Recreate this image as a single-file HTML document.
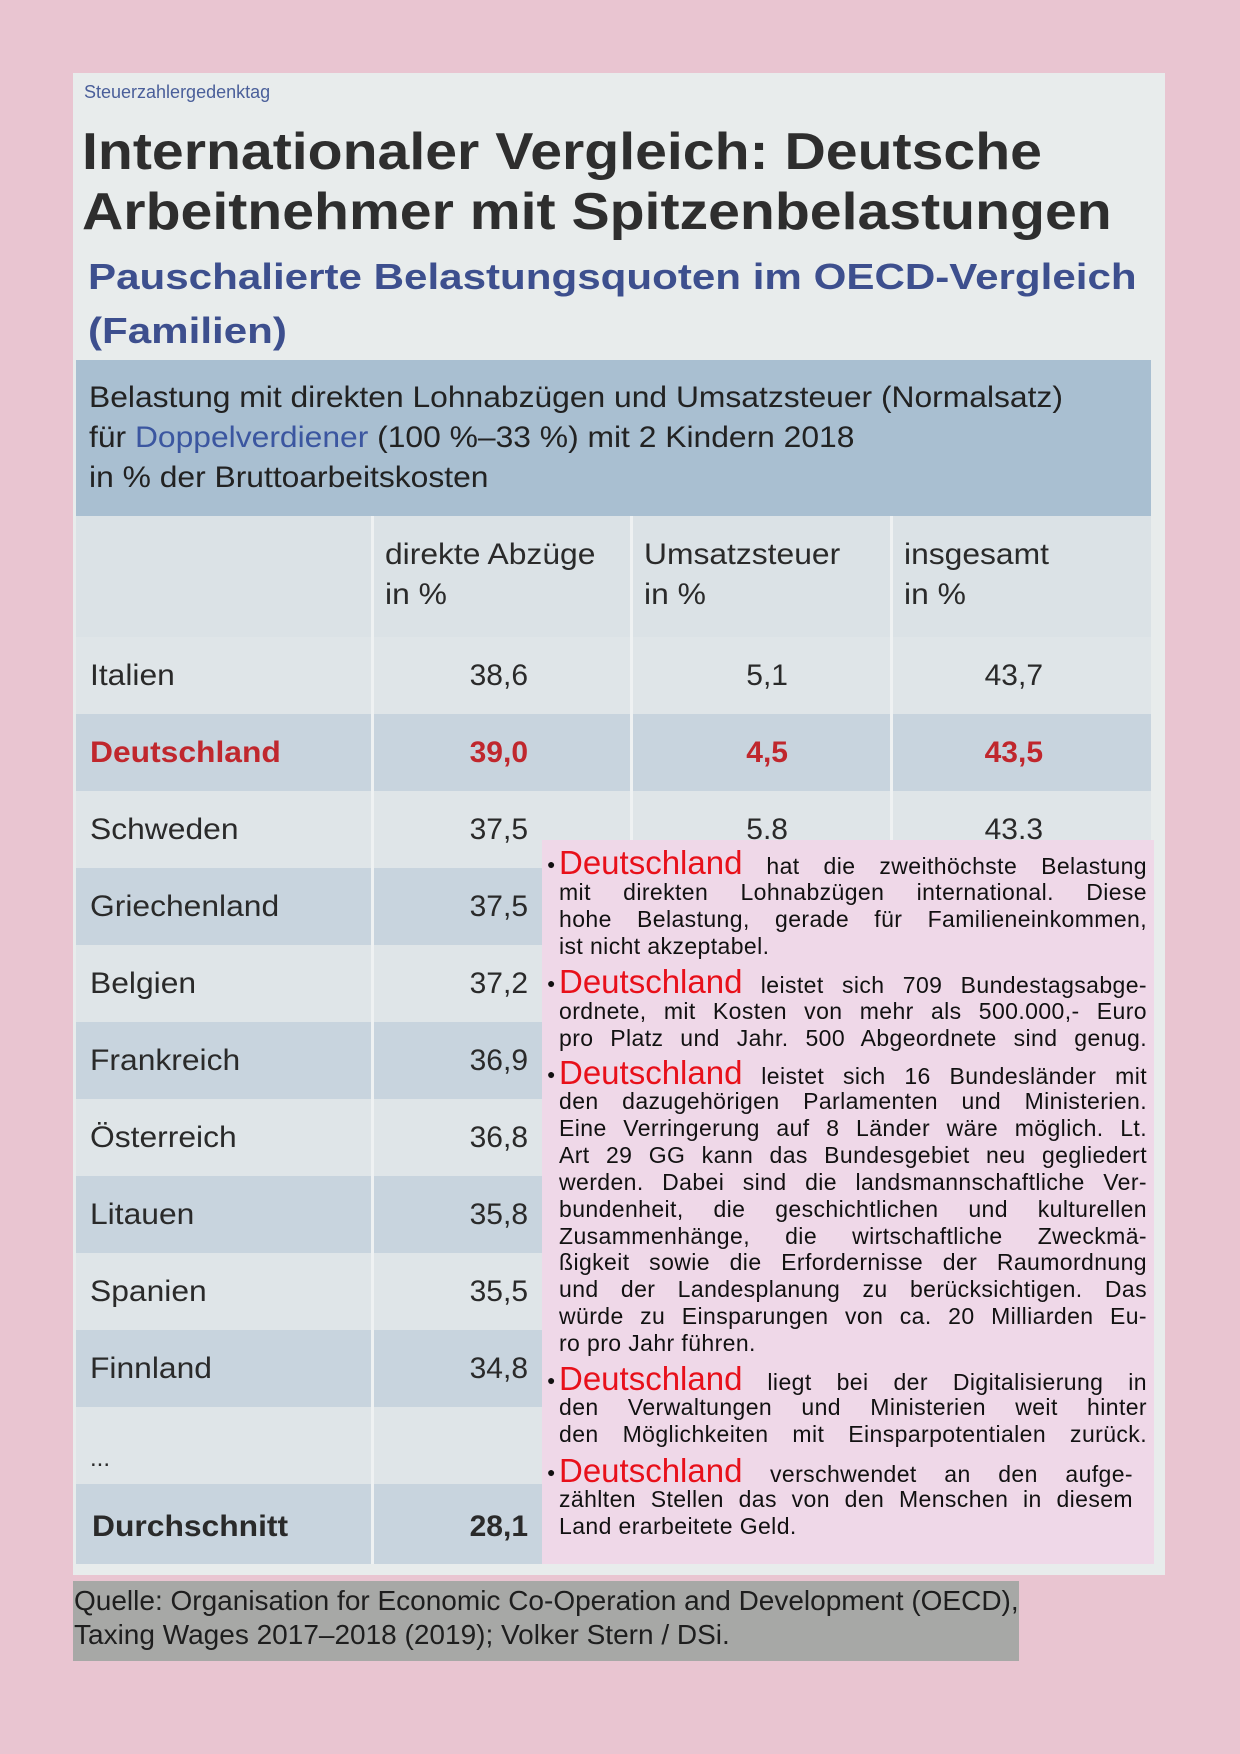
<!DOCTYPE html>
<html><head><meta charset="utf-8"><style>
*{margin:0;padding:0;box-sizing:border-box}
body{width:1240px;height:1754px;background:#e9c5d1;position:relative;overflow:hidden;font-family:"Liberation Sans",sans-serif;color:#2a2a2a}
.a{position:absolute;white-space:nowrap}
.n{transform:scaleX(1.06);transform-origin:left center}
.paper{left:73px;top:73px;width:1092px;height:1502px;background:#e8ecec}
.row{position:absolute;left:76px;width:1075px;height:77px}
.lbl{position:absolute;font-size:30px;line-height:77px}
.val{position:absolute;font-size:30px;line-height:77px;text-align:right}
.ov{left:542px;top:840px;width:612px;height:724px;background:#efd8e8}
.l{position:absolute;left:559px;width:588px;height:28px;line-height:28px;font-size:23px;letter-spacing:0.4px;color:#111;text-align:justify;text-align-last:justify;white-space:nowrap}
.l.e{text-align-last:left}
.r{color:#e8101a;font-size:33px;letter-spacing:0}
.b{position:absolute;left:547px;font-size:14px;color:#111}
</style></head><body>
<div class="a paper"></div>
<div class="a" style="left:84px;top:82px;font-size:18px;color:#4a5f9a">Steuerzahlergedenktag</div>
<div class="a n" style="left:82px;top:122px;font-size:52px;font-weight:bold;color:#2e2e2e;line-height:60px;transform:scaleX(1.1)">Internationaler Vergleich: Deutsche<br>Arbeitnehmer mit Spitzenbelastungen</div>
<div class="a n" style="left:88px;top:250px;font-size:36px;font-weight:bold;color:#3d4f8e;line-height:54px;transform:scaleX(1.17)">Pauschalierte Belastungsquoten im OECD-Vergleich<br>(Familien)</div>
<div class="a" style="left:76px;top:360px;width:1075px;height:156px;background:#a9bfd1"></div>
<div class="a n" style="left:89px;top:378px;font-size:30px;line-height:40px;color:#222">Belastung mit direkten Lohnabzügen und Umsatzsteuer (Normalsatz)<br>für <span style="color:#3b56a0">Doppelverdiener</span> (100 %–33 %) mit 2 Kindern 2018<br>in % der Bruttoarbeitskosten</div>
<div class="a" style="left:76px;top:516px;width:1075px;height:121px;background:#dbe2e6"></div>
<div class="a n" style="left:385px;top:535px;font-size:30px;line-height:40px">direkte Abzüge<br>in %</div>
<div class="a n" style="left:644px;top:535px;font-size:30px;line-height:40px">Umsatzsteuer<br>in %</div>
<div class="a n" style="left:904px;top:535px;font-size:30px;line-height:40px">insgesamt<br>in %</div>

<div class="row" style="top:637px;background:#dfe5e8"></div>
<div class="row" style="top:714px;background:#c8d4de"></div>
<div class="row" style="top:791px;background:#dfe5e8"></div>
<div class="row" style="top:868px;background:#c8d4de"></div>
<div class="row" style="top:945px;background:#dfe5e8"></div>
<div class="row" style="top:1022px;background:#c8d4de"></div>
<div class="row" style="top:1099px;background:#dfe5e8"></div>
<div class="row" style="top:1176px;background:#c8d4de"></div>
<div class="row" style="top:1253px;background:#dfe5e8"></div>
<div class="row" style="top:1330px;background:#c8d4de"></div>
<div class="row" style="top:1407px;background:#dfe5e8"></div>
<div class="row" style="top:1484px;height:80px;background:#c8d4de"></div>
<div class="a" style="left:371px;top:516px;width:3px;height:1048px;background:#eef1f2"></div>
<div class="a" style="left:630px;top:516px;width:3px;height:1048px;background:#eef1f2"></div>
<div class="a" style="left:890px;top:516px;width:3px;height:1048px;background:#eef1f2"></div>

<div class="a n lbl" style="left:90px;top:637px">Italien</div>
<div class="a n lbl" style="left:90px;top:714px;color:#c0272d;font-weight:bold">Deutschland</div>
<div class="a n lbl" style="left:90px;top:791px">Schweden</div>
<div class="a n lbl" style="left:90px;top:868px">Griechenland</div>
<div class="a n lbl" style="left:90px;top:945px">Belgien</div>
<div class="a n lbl" style="left:90px;top:1022px">Frankreich</div>
<div class="a n lbl" style="left:90px;top:1099px">Österreich</div>
<div class="a n lbl" style="left:90px;top:1176px">Litauen</div>
<div class="a n lbl" style="left:90px;top:1253px">Spanien</div>
<div class="a n lbl" style="left:90px;top:1330px">Finnland</div>
<div class="a lbl" style="left:90px;top:1420px;font-size:24px">...</div>
<div class="a n lbl" style="left:92px;top:1488px;font-weight:bold">Durchschnitt</div>

<div class="a val" style="left:460px;width:68px;top:637px">38,6</div>
<div class="a val" style="left:460px;width:68px;top:714px;color:#c0272d;font-weight:bold">39,0</div>
<div class="a val" style="left:460px;width:68px;top:791px">37,5</div>
<div class="a val" style="left:460px;width:68px;top:868px">37,5</div>
<div class="a val" style="left:460px;width:68px;top:945px">37,2</div>
<div class="a val" style="left:460px;width:68px;top:1022px">36,9</div>
<div class="a val" style="left:460px;width:68px;top:1099px">36,8</div>
<div class="a val" style="left:460px;width:68px;top:1176px">35,8</div>
<div class="a val" style="left:460px;width:68px;top:1253px">35,5</div>
<div class="a val" style="left:460px;width:68px;top:1330px">34,8</div>
<div class="a val" style="left:460px;width:68px;top:1488px;font-weight:bold">28,1</div>
<div class="a val" style="left:720px;width:68px;top:637px">5,1</div>
<div class="a val" style="left:720px;width:68px;top:714px;color:#c0272d;font-weight:bold">4,5</div>
<div class="a val" style="left:720px;width:68px;top:791px">5.8</div>
<div class="a val" style="left:975px;width:68px;top:637px">43,7</div>
<div class="a val" style="left:975px;width:68px;top:714px;color:#c0272d;font-weight:bold">43,5</div>
<div class="a val" style="left:975px;width:68px;top:791px">43.3</div>

<div class="a ov"></div>
<span class="b" style="top:856px">●</span><div class="l" style="top:849px"><span class="r">Deutschland</span> hat die zweithöchste Belastung</div>
<div class="l" style="top:878px">mit direkten Lohnabzügen international. Diese</div>
<div class="l" style="top:905px">hohe Belastung, gerade für Familieneinkommen,</div>
<div class="l e" style="top:932px">ist nicht akzeptabel.</div>
<span class="b" style="top:975px">●</span><div class="l" style="top:968px"><span class="r">Deutschland</span> leistet sich 709 Bundestagsabge-</div>
<div class="l" style="top:997px">ordnete, mit Kosten von mehr als 500.000,- Euro</div>
<div class="l" style="top:1024px">pro Platz und Jahr. 500 Abgeordnete sind genug.</div>
<span class="b" style="top:1066px">●</span><div class="l" style="top:1059px"><span class="r">Deutschland</span> leistet sich 16 Bundesländer mit</div>
<div class="l" style="top:1087px">den dazugehörigen Parlamenten und Ministerien.</div>
<div class="l" style="top:1114px">Eine Verringerung auf 8 Länder wäre möglich. Lt.</div>
<div class="l" style="top:1141px">Art 29 GG kann das Bundesgebiet neu gegliedert</div>
<div class="l" style="top:1168px">werden. Dabei sind die landsmannschaftliche Ver-</div>
<div class="l" style="top:1195px">bundenheit, die geschichtlichen und kulturellen</div>
<div class="l" style="top:1222px">Zusammenhänge, die wirtschaftliche Zweckmä-</div>
<div class="l" style="top:1248px">ßigkeit sowie die Erfordernisse der Raumordnung</div>
<div class="l" style="top:1275px">und der Landesplanung zu berücksichtigen. Das</div>
<div class="l" style="top:1302px">würde zu Einsparungen von ca. 20 Milliarden Eu-</div>
<div class="l e" style="top:1329px">ro pro Jahr führen.</div>
<span class="b" style="top:1372px">●</span><div class="l" style="top:1365px"><span class="r">Deutschland</span> liegt bei der Digitalisierung in</div>
<div class="l" style="top:1393px">den Verwaltungen und Ministerien weit hinter</div>
<div class="l" style="top:1420px">den Möglichkeiten mit Einsparpotentialen zurück.</div>
<span class="b" style="top:1464px">●</span><div class="l" style="top:1457px;width:574px"><span class="r">Deutschland</span> verschwendet an den aufge-</div>
<div class="l" style="top:1485px;width:574px">zählten Stellen das von den Menschen in diesem</div>
<div class="l e" style="top:1512px">Land erarbeitete Geld.</div>

<div class="a" style="left:73px;top:1581px;width:946px;height:80px;background:#a7a8a6"></div>
<div class="a" style="left:74px;top:1584px;font-size:28px;line-height:34px;color:#1e1e1e">Quelle: Organisation for Economic Co-Operation and Development (OECD),<br>Taxing Wages 2017–2018 (2019); Volker Stern / DSi.</div>
</body></html>
